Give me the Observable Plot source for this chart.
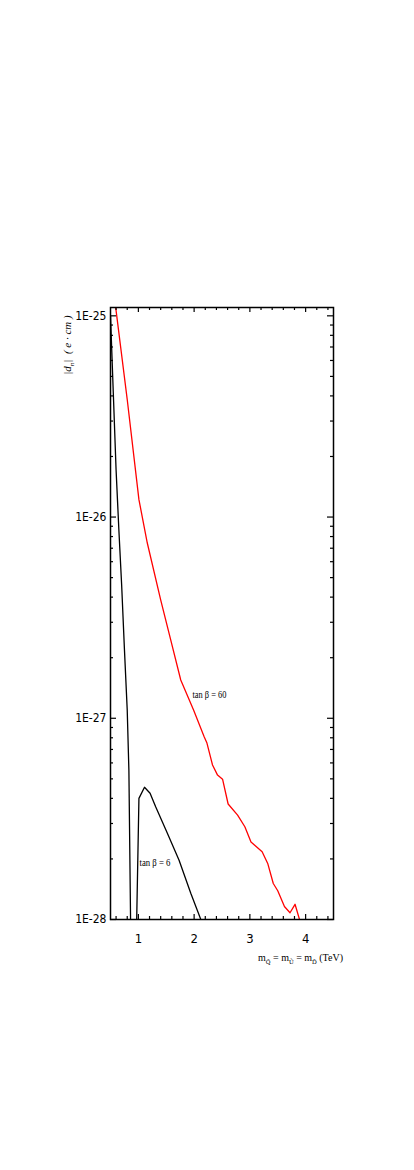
<!DOCTYPE html>
<html>
<head>
<meta charset="utf-8">
<script src="https://cdn.jsdelivr.net/npm/d3@7"></script>
<script src="https://cdn.jsdelivr.net/npm/@observablehq/plot@0.6"></script>
<style>
  html, body { margin: 0; padding: 0; background: #fff; }
  #chart svg { display: block; }
</style>
</head>
<body>
<div id="chart"></div>
<script>
// tan beta = 60 (red)
const redX = [0.55, 0.80, 1.01, 1.16, 1.40, 1.58, 1.76, 1.99, 2.18, 2.23, 2.33, 2.42, 2.51, 2.61, 2.78, 2.91, 3.02, 3.22, 3.32, 3.42, 3.50, 3.62, 3.72, 3.81, 3.90];
const redY = [1.37e-25, 3.84e-26, 1.22e-26, 7.43e-27, 3.88e-27, 2.45e-27, 1.55e-27, 1.10e-27, 8.09e-28, 7.53e-28, 5.86e-28, 5.22e-28, 4.98e-28, 3.75e-28, 3.30e-28, 2.89e-28, 2.43e-28, 2.17e-28, 1.90e-28, 1.51e-28, 1.39e-28, 1.16e-28, 1.08e-28, 1.19e-28, 0.98e-28];
// tan beta = 6 (black); null marks the sign change (|d_n| -> 0)
const blackX = [0.50, 0.55, 0.60, 0.65, 0.70, 0.75, 0.80, 0.83, 0.86, 0.92, 0.97, 1.01, 1.11, 1.21, 1.31, 1.52, 1.73, 1.94, 2.12];
const blackY = [1.0e-25, 4.15e-26, 1.72e-26, 8.65e-27, 4.6e-27, 2.2e-27, 1.1e-27, 5.5e-28, 1.0e-28, null, 1.0e-28, 4.0e-28, 4.54e-28, 4.24e-28, 3.63e-28, 2.68e-28, 1.97e-28, 1.35e-28, 1.0e-28];

// ticks
const xMajor = [1, 2, 3, 4];
const xTickLabels = ["1", "2", "3", "4"];
const xMinor = [0.6, 0.8, 1.2, 1.4, 1.6, 1.8, 2.2, 2.4, 2.6, 2.8, 3.2, 3.4, 3.6, 3.8, 4.2, 4.4];
const yMajor = [1e-28, 1e-27, 1e-26, 1e-25];
const yTickLabels = ["1E-28", "1E-27", "1E-26", "1E-25"];
const yMinor = [];
for (const e of [-28, -27, -26]) for (let m = 2; m <= 9; m++) yMinor.push(m * Math.pow(10, e));

// annotations
const annText = ["tan \u03B2 = 60", "tan \u03B2 = 6"];
const annX = [1.97, 1.02];
const annY = [1.32e-27, 1.91e-28];
const annLen = [34, 31];

const red = redX.map((x, i) => ({x, y: redY[i]}));
const black = blackX.map((x, i) => ({x, y: blackY[i]}));
const ann = annText.map((t, i) => ({t, x: annX[i], y: annY[i], len: annLen[i]}));

const W = 414, H = 1170;
const mL = 110, mR = 81, mT = 307, mB = 251;
const fw = W - mL - mR, fh = H - mT - mB;

const sansNarrow = "'Liberation Sans Narrow', 'DejaVu Sans Condensed', Arial, sans-serif";
const serif = "'Liberation Serif', 'DejaVu Serif', serif";

const plot = Plot.plot({
  width: W, height: H,
  marginLeft: mL, marginRight: mR, marginTop: mT, marginBottom: mB,
  style: {fontFamily: sansNarrow, fontSize: "12px", color: "#000", background: "#fff"},
  x: {domain: [0.5, 4.5]},
  y: {type: "log", domain: [1e-28, 1.1e-25]},
  marks: [
    Plot.line(red, {x: "x", y: "y", stroke: "#ff0000", strokeWidth: 1.3, clip: true}),
    Plot.line(black, {x: "x", y: "y", stroke: "#000", strokeWidth: 1.3, clip: true}),
    // inward ticks on all four sides
    Plot.tickY(yMajor, {y: d => d, insetRight: fw - 6, strokeWidth: 1.2}),
    Plot.tickY(yMajor, {y: d => d, insetLeft: fw - 6, strokeWidth: 1.2}),
    Plot.tickY(yMinor, {y: d => d, insetRight: fw - 3, strokeWidth: 1.2}),
    Plot.tickY(yMinor, {y: d => d, insetLeft: fw - 3, strokeWidth: 1.2}),
    Plot.tickX(xMajor, {x: d => d, insetTop: fh - 5, strokeWidth: 1.2}),
    Plot.tickX(xMajor, {x: d => d, insetBottom: fh - 5, strokeWidth: 1.2}),
    Plot.tickX(xMinor, {x: d => d, insetTop: fh - 3, strokeWidth: 1.2}),
    Plot.tickX(xMinor, {x: d => d, insetBottom: fh - 3, strokeWidth: 1.2}),
    Plot.frame({stroke: "#000", strokeWidth: 1.5}),
    Plot.axisY(yMajor, {tickSize: 0, tickPadding: 4, label: null,
      tickFormat: d => yTickLabels[yMajor.indexOf(d)], fontSize: 12}),
    Plot.axisX(xMajor, {tickSize: 0, tickPadding: 14, label: null,
      tickFormat: d => xTickLabels[xMajor.indexOf(d)], fontSize: 13}),
    Plot.text(ann, {x: "x", y: "y", text: "t", textAnchor: "start", fontFamily: serif,
      fontSize: 11, fill: "#000", className: "ann"})
  ]
});

document.getElementById("chart").appendChild(plot);
const svg = d3.select(plot);

// compress annotation glyphs like the reference
svg.selectAll(".ann text").each(function() {
  const t = d3.select(this);
  const a = ann.find(d => d.t === t.text());
  if (a) t.attr("textLength", a.len).attr("lengthAdjust", "spacingAndGlyphs");
});

// x-axis title with subscripts
const xt = svg.append("text")
  .attr("x", 343).attr("y", 961)
  .attr("text-anchor", "end")
  .attr("font-family", serif).attr("font-size", 10).attr("fill", "#000");
const xParts = [["m", 0], ["Q\u0303", 1], [" = m", 0], ["U\u0303", 1], [" = m", 0], ["D\u0303", 1], [" (TeV)", 0]];
let prev = 0;
for (const [s, sub] of xParts) {
  const shift = sub ? 3 : 0;
  xt.append("tspan").attr("dy", shift - prev).attr("font-size", sub ? 6.5 : 10).text(s);
  prev = shift;
}

// y-axis title rotated
const yt = svg.append("text")
  .attr("transform", "translate(71,345) rotate(-90)")
  .attr("text-anchor", "middle")
  .attr("font-family", serif).attr("font-size", 11).attr("font-style", "italic").attr("fill", "#000");
yt.append("tspan").text("|d");
yt.append("tspan").attr("dy", 3).attr("font-size", 7).text("n");
yt.append("tspan").attr("dy", -3).text("|  ( e \u00B7 cm )");
</script>
</body>
</html>
